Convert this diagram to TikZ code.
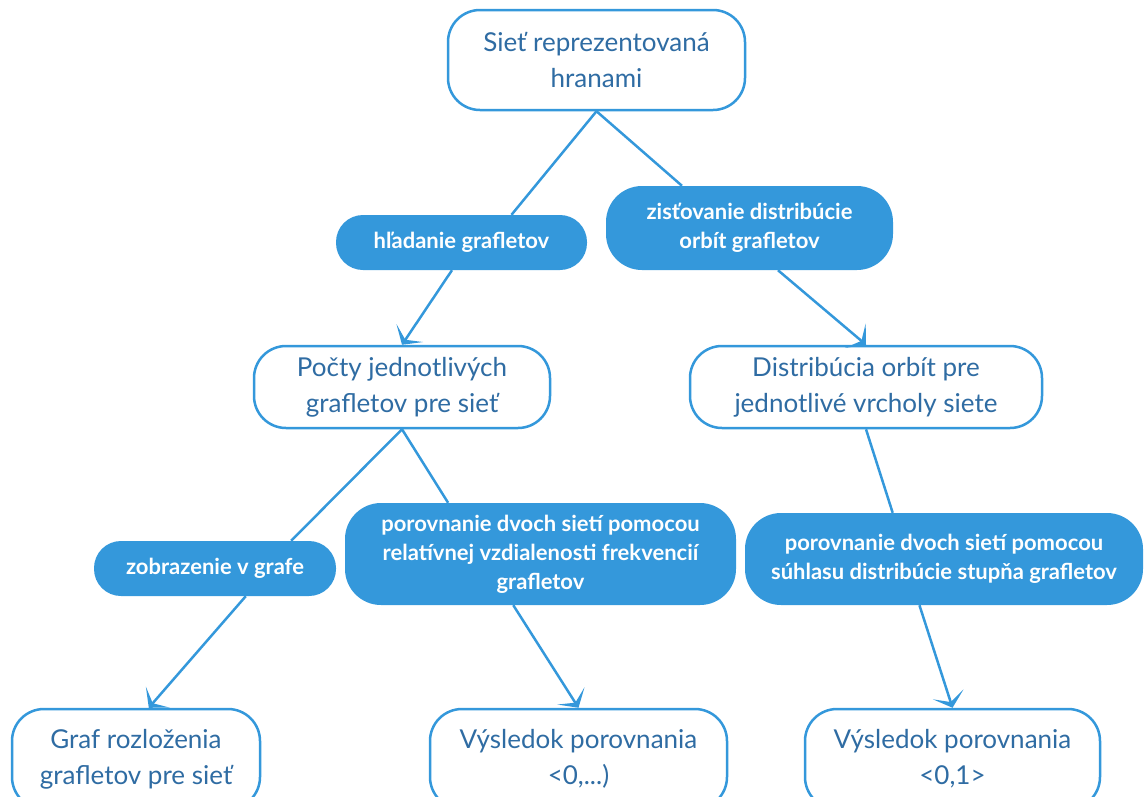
\documentclass[tikz,border=0pt]{standalone}
\usepackage{fontspec}
\setmainfont{Lato}
\usepackage{tikz}
\usetikzlibrary{calc,arrows.meta}

\definecolor{flatblue}{HTML}{3498DB}
\definecolor{textblue}{HTML}{2F6CA3}

\begin{document}
\begin{tikzpicture}[x=1pt,y=-1pt]
  \tikzset{
    concept/.style={draw=flatblue, line width=2.5pt, fill=white, rounded corners=32pt,
      inner sep=0pt, align=center, text=textblue, font=\fontsize{26}{36}\selectfont},
    relation/.style={fill=flatblue, draw=none, rounded corners=27pt, inner sep=0pt,
      align=center, text=white, font=\bfseries\fontsize{22}{29}\selectfont},
    link/.style={draw=flatblue, line width=2.5pt},
    linkto/.style={link, -{Stealth[length=14pt, width=32pt, inset=8pt]}}
  }
  \useasboundingbox (0,0) rectangle (1144,796);

  %% Concepts
  \node[concept, minimum width=297, minimum height=100] (net)   at (596.5,60)  {Sieť reprezentovaná\\hranami};
  \node[concept, minimum width=296, minimum height=82]  (counts) at (402,387)  {Počty jednotlivých\\grafletov pre sieť};
  \node[concept, minimum width=352, minimum height=82]  (orbits) at (866,387)  {Distribúcia orbít pre\\jednotlivé vrcholy siete};
  \node[concept, minimum width=248, minimum height=100] (graph)  at (136,759)  {Graf rozloženia\\grafletov pre sieť};
  \node[concept, minimum width=297, minimum height=100] (resA)   at (578.5,759) {Výsledok porovnania\\<0,...)};
  \node[concept, minimum width=295, minimum height=100] (resB)   at (952.5,759) {Výsledok porovnania\\<0,1>};

  %% Relations (labels on the links)
  \node[relation, minimum width=251, minimum height=55] (find)   at (461.5,242.5) {hľadanie grafletov};
  \node[relation, minimum width=287, minimum height=84, rounded corners=36pt] (distr) at (749.5,228) {zisťovanie distribúcie\\orbít grafletov};
  \node[relation, minimum width=242, minimum height=55] (show)   at (215,568.5) {zobrazenie v grafe};
  \node[relation, minimum width=391, minimum height=102, rounded corners=36pt] (cmpA) at (540.5,554) {porovnanie dvoch sietí pomocou\\relatívnej vzdialenosti frekvencií\\grafletov};
  \node[relation, minimum width=398, minimum height=92, rounded corners=36pt]  (cmpB) at (944,559) {porovnanie dvoch sietí pomocou\\súhlasu distribúcie stupňa grafletov};

  %% Links from concept to relation
  \foreach \src/\dst in {net.south/find.29, net.south/distr.148, counts.south/show.20,
                         counts.south/cmpA.151, orbits.south/cmpB.138}
    \draw[link] (\src) -- (\dst);

  %% Arrows from relation to concept
  \foreach \src/\dst in {find.251/counts.north, distr.304/orbits.north, show.318/graph.76,
                         cmpA.242/resA.north, cmpB.242/resB.north}
    \draw[linkto] (\src) -- (\dst);
\end{tikzpicture}
\end{document}
